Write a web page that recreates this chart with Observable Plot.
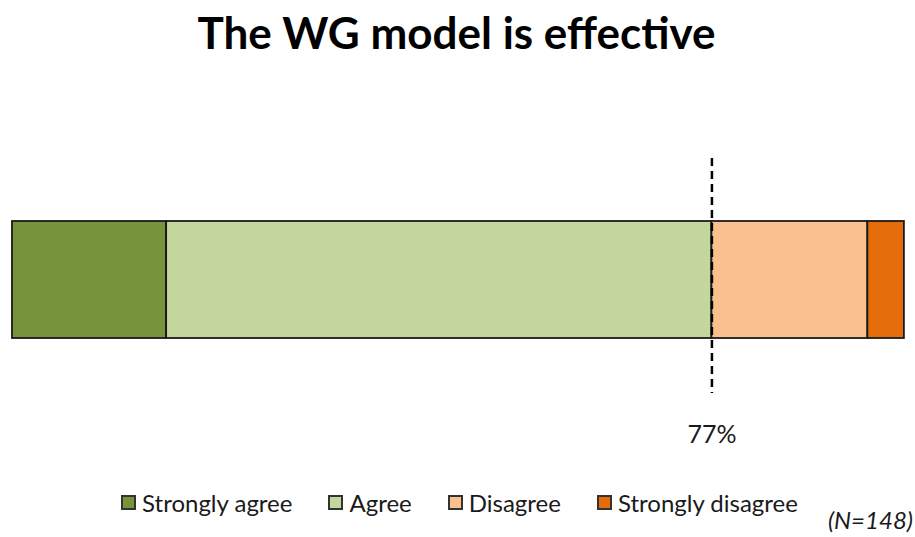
<!DOCTYPE html>
<html>
<head>
<meta charset="utf-8">
<script src="https://cdn.jsdelivr.net/npm/d3@7"></script>
<script src="https://cdn.jsdelivr.net/npm/@observablehq/plot@0.6"></script>
<style>
  html, body { margin: 0; padding: 0; background: #fff; }
  body { width: 915px; height: 537px; position: relative; overflow: hidden; font-family: Lato, "Open Sans", sans-serif; }
  #title { height: 70px; line-height: 64px; text-align: center; font-size: 44px; font-weight: 700; color: #000; padding-right: 2px; }
  #legend { position: absolute; left: 2px; width: 915px; top: 488px; display: flex; justify-content: center; gap: 36px; font-size: 24px; color: #1a1a1a; }
  .item { display: flex; align-items: center; gap: 6px; }
  .sw { width: 15px; height: 15px; border: 2px solid #333; box-sizing: border-box; }
  #note { position: absolute; right: 2px; top: 505px; font-size: 24px; font-style: italic; color: #1a1a1a; }
</style>
</head>
<body>
<div id="title"></div>
<div id="chart"></div>
<div id="legend"></div>
<div id="note"></div>
<script>
const titleText = "The WG model is effective";
const noteText = "(N=148)";
const categories = ["Strongly agree", "Agree", "Disagree", "Strongly disagree"];
const values = [17.3, 61.2, 17.5, 4.1];
const colors = ["#77933C", "#C3D69B", "#FAC090", "#E46C0A"];
const markerLabel = "77%";

document.getElementById("title").textContent = titleText;
document.getElementById("note").textContent = noteText;

const data = categories.map((c, i) => ({row: "all", category: c, value: values[i]}));
const markerX = values[0] + values[1];

const chart = Plot.plot({
  width: 915,
  height: 400,
  marginLeft: 12,
  marginRight: 12,
  marginTop: 88,
  marginBottom: 77,
  x: {domain: [0, 100], axis: null},
  y: {domain: ["all"], axis: null, padding: 0},
  color: {domain: categories, range: colors},
  style: {fontFamily: "Lato, 'Open Sans', sans-serif", background: "white"},
  marks: [
    Plot.barX(data, Plot.stackX({x: "value", y: "row", fill: "category", order: null,
      stroke: "#1a1a1a", strokeWidth: 1.8, insetTop: 63, insetBottom: 55})),
    Plot.ruleX([markerX], {stroke: "#000", strokeWidth: 2.5, strokeDasharray: "8,5"}),
    Plot.text([markerLabel], {x: markerX, frameAnchor: "bottom", dy: 49, fontSize: 25, fill: "#1a1a1a"})
  ]
});
document.getElementById("chart").appendChild(chart);

const legend = document.getElementById("legend");
categories.forEach((c, i) => {
  const item = document.createElement("div");
  item.className = "item";
  const sw = document.createElement("span");
  sw.className = "sw";
  sw.style.background = colors[i];
  const lab = document.createElement("span");
  lab.textContent = c;
  item.appendChild(sw);
  item.appendChild(lab);
  legend.appendChild(item);
});
</script>
</body>
</html>
